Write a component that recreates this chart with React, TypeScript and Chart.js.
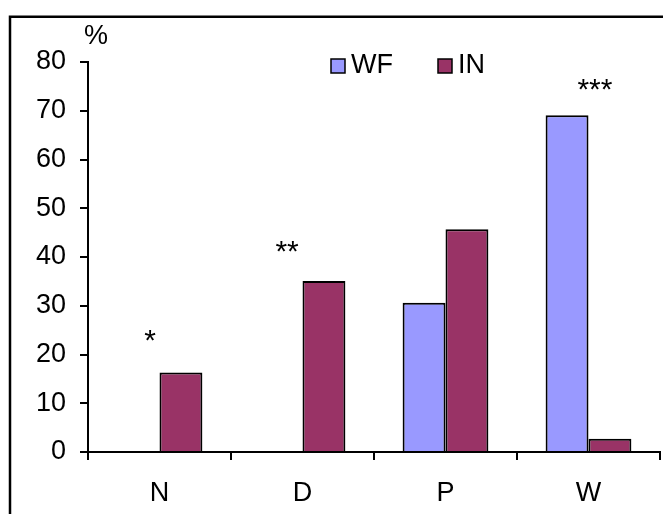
import React, { useEffect, useRef } from "react";
import { Chart, registerables } from "chart.js";

Chart.register(...registerables);

const categories = ["N", "D", "P", "W"];
const wfValues = [0, 0, 30.6, 69.1];
const inValues = [16.3, 35.1, 45.7, 2.7];
const seriesNames = ["WF", "IN"];
const yTicks = [0, 10, 20, 30, 40, 50, 60, 70, 80];
const yUnit = "%";
// significance marks: text, x position (category index), y value
const sigMarks = ["*", "**", "***"];
const sigX = [-0.066, 0.892, 3.045];
const sigY = [23.7, 41.8, 75.1];

const FONT = "'Liberation Sans', Arial, sans-serif";
const FS = 27;

export default function App() {
  const ref = useRef<HTMLCanvasElement | null>(null);

  useEffect(() => {
    if (!ref.current) return;

    const framePlugin = {
      id: "frameAndExtras",
      afterDraw(chart: any) {
        const ctx = chart.ctx;
        const xs = chart.scales.x;
        const ys = chart.scales.y;
        ctx.save();
        // frame
        ctx.strokeStyle = "#000";
        ctx.lineWidth = 2.5;
        ctx.beginPath();
        ctx.moveTo(10, 600);
        ctx.lineTo(10, 16.75);
        ctx.lineTo(700, 16.75);
        ctx.stroke();

        // unit label
        ctx.fillStyle = "#000";
        ctx.font = `${FS}px ${FONT}`;
        ctx.textAlign = "center";
        ctx.textBaseline = "middle";
        ctx.fillText(yUnit, 96, 37);

        // legend
        const ds = chart.data.datasets;
        const legendX = [331, 438];
        ds.forEach((d: any, i: number) => {
          const bx = legendX[i];
          ctx.fillStyle = d.backgroundColor;
          ctx.fillRect(bx, 59, 14, 14);
          ctx.lineWidth = 1.5;
          ctx.strokeStyle = "#000";
          ctx.strokeRect(bx, 59, 14, 14);
          ctx.fillStyle = "#000";
          ctx.font = `${FS}px ${FONT}`;
          ctx.textAlign = "left";
          ctx.textBaseline = "middle";
          ctx.fillText(d.label, bx + 20, 66);
        });

        // significance marks
        ctx.font = `30px ${FONT}`;
        ctx.textAlign = "center";
        ctx.textBaseline = "middle";
        ctx.fillStyle = "#000";
        sigMarks.forEach((t, i) => {
          const px = xs.getPixelForValue(sigX[i]);
          const py = ys.getPixelForValue(sigY[i]);
          ctx.fillText(t, px, py + 5);
        });
        ctx.restore();
      },
    };

    const chart = new Chart(ref.current, {
      type: "bar",
      data: {
        labels: categories,
        datasets: [
          {
            label: seriesNames[0],
            data: wfValues,
            backgroundColor: "#9999FF",
            borderColor: "#000",
            borderWidth: 2,
            borderSkipped: "bottom",
          },
          {
            label: seriesNames[1],
            data: inValues,
            backgroundColor: "#993366",
            borderColor: "#000",
            borderWidth: 2,
            borderSkipped: "bottom",
          },
        ],
      },
      options: {
        animation: false,
        responsive: true,
        maintainAspectRatio: false,
        layout: { padding: { left: 0, right: 3, top: 62, bottom: 0 } },
        plugins: {
          legend: { display: false },
          tooltip: { enabled: false },
        },
        datasets: {
          bar: { categoryPercentage: 0.6, barPercentage: 1 },
        },
        scales: {
          x: {
            offset: true,
            grid: {
              offset: true,
              display: true,
              drawOnChartArea: false,
              drawTicks: true,
              tickLength: 8,
              color: "#000",
              lineWidth: 2,
            },
            border: { display: true, color: "#000", width: 2 },
            ticks: {
              color: "#000",
              font: { family: FONT, size: FS },
              padding: 17,
            },
            afterFit(scale: any) {
              scale.height = 62;
            },
          },
          y: {
            min: 0,
            max: 80,
            afterBuildTicks(scale: any) {
              scale.ticks = yTicks.map((v) => ({ value: v }));
            },
            grid: {
              display: true,
              drawOnChartArea: false,
              drawTicks: true,
              tickLength: 8,
              color: "#000",
              lineWidth: 2,
            },
            border: { display: true, color: "#000", width: 2 },
            ticks: {
              color: "#000",
              font: { family: FONT, size: FS },
              padding: 14,
            },
            afterFit(scale: any) {
              scale.width = 88;
            },
          },
        },
      },
      plugins: [framePlugin],
    });

    return () => chart.destroy();
  }, []);

  return (
    <div style={{ position: "fixed", left: 0, top: 0, width: 663, height: 514, background: "#fff" }}>
      <canvas ref={ref} />
    </div>
  );
}
